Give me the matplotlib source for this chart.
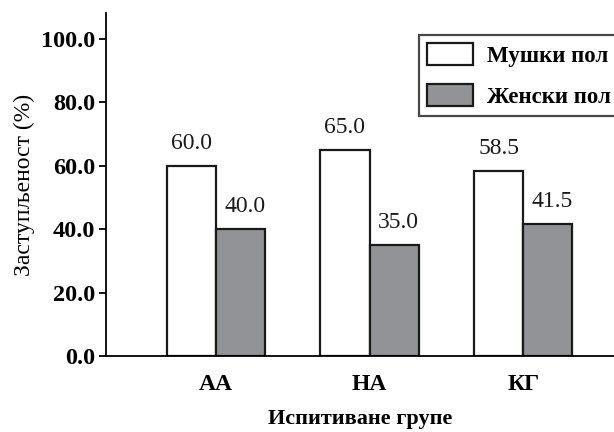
import matplotlib.pyplot as plt
import numpy as np

groups = ['АА', 'НА', 'КГ']
male = [60.0, 65.0, 58.5]
female = [40.0, 35.0, 41.5]
series_names = ['Мушки пол', 'Женски пол']

plt.rcParams['font.family'] = ['Liberation Serif', 'DejaVu Serif']

fig = plt.figure(figsize=(6.14, 4.32), dpi=100)
ax = fig.add_axes([106 / 614, 1 - 356 / 432, 1 - 106 / 614, (356 - 13) / 432])

x = np.arange(len(groups))
w = 0.32
b1 = ax.bar(x - w / 2, male, w, color='white', edgecolor='#1a1a1a', linewidth=1.6,
            label=series_names[0])
b2 = ax.bar(x + w / 2, female, w, color='#929396', edgecolor='#1a1a1a', linewidth=1.6,
            label=series_names[1])

# value labels above each bar
for bars, vals, dx in ((b1, male, 0.0), (b2, female, 0.03)):
    for r, v in zip(bars, vals):
        ax.text(r.get_x() + r.get_width() / 2 + dx, v + 3.8, f'{v:.1f}',
                ha='center', va='bottom', fontsize=17, color='#1a1a1a')

ax.set_xlim(-0.714, 2.59)
ax.set_ylim(0, 108.2)
ax.set_yticks(np.arange(0, 101, 20))
ax.set_yticklabels([f'{t:.1f}' for t in np.arange(0, 101, 20)],
                   fontsize=17.5, fontweight='bold')
ax.set_xticks(x)
ax.set_xticklabels(groups, fontsize=17, fontweight='bold')
ax.tick_params(axis='x', length=0, pad=13)
ax.tick_params(axis='y', length=5, width=1.3, direction='out', pad=3)

for s in ('top', 'right'):
    ax.spines[s].set_visible(False)
ax.spines['left'].set_linewidth(1.3)
ax.spines['bottom'].set_linewidth(1.3)

ax.set_ylabel('Заступљеност (%)', fontsize=17, labelpad=4)
ax.set_xlabel('Испитиване групе', fontsize=16, fontweight='bold', labelpad=10)

leg = ax.legend(loc='upper left', bbox_to_anchor=(419 / 614, 1 - 35 / 432),
                bbox_transform=fig.transFigure, borderaxespad=0,
                handlelength=2.0, handleheight=1.1, handletextpad=0.6,
                labelspacing=0.75, borderpad=0.35, fancybox=False,
                prop={'weight': 'bold', 'size': 16.5})
leg.get_frame().set_edgecolor('#1a1a1a')
leg.get_frame().set_linewidth(1.6)

fig.savefig('out.png', dpi=100)
